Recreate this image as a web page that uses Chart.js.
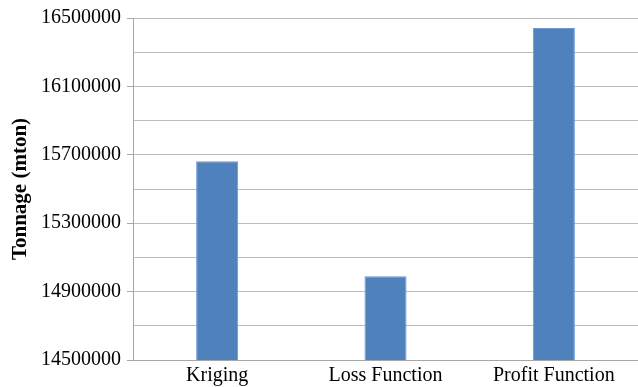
<!DOCTYPE html>
<html>
<head>
<meta charset="utf-8">
<script src="https://cdn.jsdelivr.net/npm/chart.js@4/dist/chart.umd.min.js"></script>
<style>
  html, body { margin: 0; padding: 0; background: #ffffff; }
  #wrap { width: 638px; height: 387px; position: relative; }
</style>
</head>
<body>
<div id="wrap"><canvas id="chart"></canvas></div>
<script>
// Tonnage estimated by each method
const methods = ['Kriging', 'Loss Function', 'Profit Function'];
const tonnage = [15662000, 14990000, 16442000];

// Value axis range and spacing
const axisMin = 14500000;
const axisMax = 16500000;
const gridStep = 200000;
const labelStep = 400000;

const serif = '"Liberation Serif", "DejaVu Serif", serif';
const isLabelled = v => Math.round(v - axisMin) % labelStep === 0;

new Chart(document.getElementById('chart'), {
  type: 'bar',
  data: {
    labels: methods,
    datasets: [{
      label: 'Tonnage (mton)',
      data: tonnage,
      backgroundColor: '#4f81bd',
      borderColor: '#6b99d0',
      borderWidth: 1,
      categoryPercentage: 1.0,
      barPercentage: 0.25
    }]
  },
  options: {
    responsive: true,
    maintainAspectRatio: false,
    animation: false,
    layout: { padding: { top: 7, right: 0, bottom: 0, left: 0 } },
    plugins: {
      legend: { display: false },
      tooltip: { enabled: false }
    },
    scales: {
      x: {
        afterFit: scale => { scale.height = 27; },
        grid: { display: false, drawTicks: false },
        border: { color: '#a6a6a6', width: 1 },
        ticks: {
          color: '#000000',
          padding: 4,
          font: { family: serif, size: 20 }
        }
      },
      y: {
        min: axisMin,
        max: axisMax,
        afterFit: scale => { scale.width = 133; },
        border: { color: '#a6a6a6', width: 1 },
        grid: {
          color: '#bdbdbd',
          lineWidth: 1,
          drawTicks: true,
          tickLength: 6,
          tickColor: ctx => (ctx.tick && isLabelled(ctx.tick.value)) ? '#a6a6a6' : 'rgba(0,0,0,0)'
        },
        ticks: {
          stepSize: gridStep,
          autoSkip: false,
          color: '#000000',
          padding: 6,
          font: { family: serif, size: 20 },
          callback: v => isLabelled(v) ? String(v) : ''
        },
        title: {
          display: true,
          text: 'Tonnage (mton)',
          color: '#000000',
          padding: { top: 8, bottom: 0 },
          font: { family: serif, size: 21, weight: 'bold' }
        }
      }
    }
  }
});
</script>
</body>
</html>
